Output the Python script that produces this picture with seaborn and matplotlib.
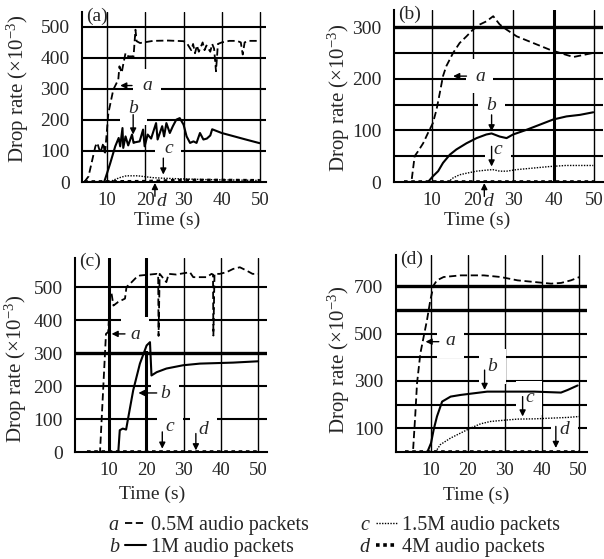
import numpy as np
import pandas as pd
import seaborn as sns
import matplotlib.pyplot as plt
from matplotlib.lines import Line2D

sns.set_style('white')
plt.rcParams['font.family'] = ['Liberation Serif', 'DejaVu Serif']
plt.rcParams['mathtext.fontset'] = 'custom'
plt.rcParams['mathtext.rm'] = 'Liberation Serif'
plt.rcParams['mathtext.it'] = 'Liberation Serif:italic'

# ---------------- dados ----------------
# painel (a)
a_a_t = [4, 5.1, 6.9, 7.4, 8.2, 9, 9.4, 10.3, 11.6, 12.9, 13.2, 13.8, 14.1, 14.8, 15.5, 16.9,
         17.4, 17.7, 18.6, 22, 26, 30, 31, 32, 32.5, 33, 33.5, 34, 35, 35.5, 36, 37, 37.5, 38,
         38.5, 39, 40, 42, 44, 45, 45.5, 46, 47, 50]
a_a_v = [0, 18, 115, 126, 94, 126, 88, 222, 298, 330, 373, 352, 373, 416, 405, 405,
         491, 454, 448, 455, 456, 454, 445, 425, 445, 415, 440, 420, 450, 425, 440, 420, 445, 430,
         357, 445, 450, 455, 455, 450, 411, 450, 455, 455]
a_b_t = [4, 9.2, 10, 10.8, 12.1, 13, 13.4, 14, 14.2, 14.8, 15.5, 16.5, 16.9, 17.3, 18.5, 19.4,
         19.8, 20.6, 21.5, 22.8, 23.2, 24.4, 24.9, 25.5, 26.4, 27.2, 28.1, 29, 30, 30.8, 31.7,
         32.6, 33.4, 34.3, 35.2, 36.1, 37, 37.5, 40, 43, 46, 50]
a_b_v = [0, 0, 30, 61, 115, 142, 115, 174, 110, 147, 118, 153, 126, 128, 131, 169,
         115, 153, 140, 190, 137, 180, 147, 190, 158, 180, 201, 206, 185, 147, 126,
         131, 126, 158, 137, 140, 150, 170, 158, 148, 138, 125]
a_c_t = [4, 10.5, 12, 13.5, 15, 18, 20, 22, 25, 30, 35, 40, 45, 50]
a_c_v = [0, 0, 8, 15, 20, 20, 17, 14, 12, 10, 8, 7, 6, 5]
a_d_t = [4, 20, 25, 30, 40, 50]
a_d_v = [0, 1, 3, 5, 5, 4]

# painel (b)
b_a_t = [3, 4.9, 5.7, 6.5, 7.8, 9, 10.2, 11.1, 11.9, 12.7, 13.5, 15.2, 16.8, 18.5, 20.1, 21.8,
         23.4, 25.1, 26.7, 28.4, 30.9, 35, 39.1, 43.2, 44.9, 47.4, 49.8]
b_a_v = [0, 0, 50, 59, 75, 95, 114, 140, 172, 205, 224, 250, 269, 282, 295, 305,
         311, 321, 305, 295, 282, 269, 256, 246, 242, 246, 250]
b_b_t = [3, 9, 10.2, 11.5, 12.7, 14.4, 16, 18.5, 21, 23.4, 24.7, 26.7, 28.4, 30, 33.3, 36.6,
         39.9, 43.2, 46.5, 49.8]
b_b_v = [0, 0, 11, 21, 37, 53, 63, 75, 85, 92, 94, 88, 85, 92, 101, 111,
         121, 127, 130, 135]
b_c_t = [3, 14, 15.2, 16.8, 18.5, 21, 23.4, 25, 26.7, 28.4, 30.9, 35, 39.1, 43, 49.8]
b_c_v = [0, 0, 8, 14, 17, 21, 23, 24, 21, 21, 24, 27, 30, 32, 32]
b_d_t = [3, 50]
b_d_v = [0, 0]

# painel (c)
c_a_t = [4, 7.6, 9.2, 9.8, 10.3, 10.7, 11.2, 12.5, 14.3, 14.7, 16.1, 17.4, 18.3, 22.8, 23.2,
         23.3, 23.6, 25.4, 26, 28, 31.7, 32.6, 36.2, 37.5, 37.9, 38, 38.3, 39.7, 41.5, 43.3,
         45.1, 46.9, 48.5, 50]
c_a_v = [0, 0, 358, 364, 470, 480, 444, 455, 465, 500, 515, 530, 535, 540, 538,
         352, 540, 515, 540, 538, 545, 530, 530, 540, 538, 353, 540, 540, 545, 555,
         560, 550, 540, 540]
c_b_t = [4, 12.5, 12.9, 13.7, 14.6, 15.2, 16.5, 18.3, 20.1, 21, 21.4, 22.8, 25.4, 29.9, 34.4,
         43.3, 50]
c_b_v = [0, 0, 66, 71, 68, 106, 187, 268, 323, 333, 232, 242, 253, 263, 268,
         271, 275]
c_c_t = [4, 50]
c_c_v = [0, 0]
c_d_t = [4, 50]
c_d_v = [0, 0]

# painel (d)
d_a_t = [3, 5.1, 5.7, 6.2, 7.1, 8, 8.9, 9.8, 10.7, 11.6, 13.4, 18, 24.3, 28.9, 33.4, 38,
         42.5, 45.2, 47.9, 50.2]
d_a_v = [0, 0, 150, 290, 416, 487, 557, 641, 704, 725, 739, 746, 746, 739, 725, 718,
         711, 714, 725, 739]
d_b_t = [3, 9, 10, 10.7, 11.6, 13, 15.3, 18, 21.6, 25.2, 28.9, 38, 45.2, 47, 49.7]
d_b_v = [0, 0, 38, 94, 150, 213, 234, 241, 248, 255, 255, 255, 251, 262, 281]
d_c_t = [11.2, 12.5, 15.3, 18, 20.7, 23.4, 26.1, 28.9, 33.4, 38, 42.5, 47, 50.2]
d_c_v = [0, 31, 59, 80, 101, 119, 129, 133, 139, 140, 143, 146, 150]
d_d_t = [3, 50]
d_d_v = [0, 0]

series_labels = ['a', 'b', 'c', 'd']
legend_texts = ['0.5M audio packets', '1M audio packets', '1.5M audio packets', '4M audio packets']
x_ticks = [10, 20, 30, 40, 50]

# estilos de cada curva
estilos = {
    'a': dict(linestyle=(0, (4, 2)), lw=1.3),
    'b': dict(linestyle='-', lw=1.5),
    'c': dict(linestyle=(0, (1, 1)), lw=1.0),
    'd': dict(linestyle=(0, (1, 1)), lw=2.6),
}

# notas: (letra, posicao do texto, cauda da seta, ponta da seta, fundo branco)
paineis = [
    dict(nome='(a)', rect=[0.1358, 0.6744, 0.3046, 0.3041], xlim=(3.4, 51.6), ylim=(0, 548),
         yticks=[0, 100, 200, 300, 400, 500], hgrid=[100, 200, 300, 400, 500], hthick=[],
         vthick=[], dados={'a': (a_a_t, a_a_v), 'b': (a_b_t, a_b_v), 'c': (a_c_t, a_c_v), 'd': (a_d_t, a_d_v)},
         notas=[('a', (20.4, 310), (16.5, 311), (13.4, 311), True),
                ('b', (16.8, 238), (16.8, 217), (16.8, 153), True),
                ('c', (26.0, 108), (24.7, 77), (24.7, 24), True),
                ('d', (24.2, -64), (22.5, -46), (22.5, -3), False)],
         ylab=(-0.35, 0.55), xlab=(0.46, -0.225)),
    dict(nome='(b)', rect=[0.6523, 0.6744, 0.346, 0.3077], xlim=(0.6, 52.2), ylim=(0, 333),
         yticks=[0, 100, 200, 300], hgrid=[50, 100, 150, 200, 250, 300], hthick=[300],
         vthick=[40], dados={'a': (b_a_t, b_a_v), 'b': (b_b_t, b_b_v), 'c': (b_c_t, b_c_v), 'd': (b_d_t, b_d_v)},
         notas=[('a', (21.8, 205), (18.5, 205), (15.2, 205), True),
                ('b', (24.7, 148), (24.7, 130), (24.7, 98), True),
                ('c', (26.3, 63), (24.7, 69), (24.7, 30), True),
                ('d', (23.8, -38), (22.9, -28), (22.9, -2), False)],
         ylab=(-0.265, 0.49), xlab=(0.40, -0.225)),
    dict(nome='(c)', rect=[0.1242, 0.1914, 0.318, 0.347], xlim=(0.9, 52.4), ylim=(0, 588),
         yticks=[0, 100, 200, 300, 400, 500], hgrid=[100, 200, 300, 400, 500], hthick=[300],
         vthick=[10, 20], dados={'a': (c_a_t, c_a_v), 'b': (c_b_t, c_b_v), 'c': (c_c_t, c_c_v), 'd': (c_d_t, c_d_v)},
         notas=[('a', (17.0, 357), (14.3, 358), (10.7, 358), True),
                ('b', (25.0, 177), (22.8, 179), (17.9, 179), True),
                ('c', (26.3, 78), (24.3, 61), (24.3, 10), True),
                ('d', (35.3, 68), (33.3, 56), (33.3, 5), True)],
         ylab=(-0.31, 0.43), xlab=(0.40, -0.22)),
    dict(nome='(d)', rect=[0.6556, 0.1914, 0.316, 0.352], xlim=(0.5, 52.2), ylim=(0, 831),
         yticks=[100, 300, 500, 700], hgrid=[100, 200, 300, 400, 500, 600, 700], hthick=[600, 700],
         vthick=[], dados={'a': (d_a_t, d_a_v), 'b': (d_b_t, d_b_v), 'c': (d_c_t, d_c_v), 'd': (d_d_t, d_d_v)},
         notas=[('a', (15.3, 470), (12.1, 466), (8.5, 466), True),
                ('b', (26.6, 362), (24.5, 346), (24.5, 262), True),
                ('c', (36.6, 229), (34.8, 234), (34.8, 150), True),
                ('d', (46.1, 94), (43.8, 108), (43.8, 17), True)],
         ylab=(-0.30, 0.47), xlab=(0.42, -0.22)),
]

fig = plt.figure(figsize=(6.04, 5.59), dpi=100)

for p in paineis:
    ax = fig.add_axes(p['rect'])
    # grade
    for h in p['hgrid']:
        ax.axhline(h, color='k', lw=2.4 if h in p['hthick'] else 1.5, zorder=1)
    for v in x_ticks:
        ax.axvline(v, color='k', lw=2.2 if v in p['vthick'] else 1.0, zorder=1)

    for s in series_labels:
        t, v = p['dados'][s]
        df = pd.DataFrame({'t': t, 'v': v})
        sns.lineplot(data=df, x='t', y='v', ax=ax, color='k', estimator=None, sort=False,
                     zorder=3, **estilos[s])

    for letra, pos, cauda, ponta, fundo in p['notas']:
        ax.annotate('', xy=ponta, xytext=cauda, zorder=4, annotation_clip=False,
                    arrowprops=dict(arrowstyle='-|>', color='k', lw=1.0, mutation_scale=9,
                                    shrinkA=0, shrinkB=0))
        caixa = dict(boxstyle='square,pad=0.45', fc='white', ec='none') if fundo else None
        ax.text(pos[0], pos[1], letra, fontsize=14, fontstyle='italic', ha='center',
                va='center', zorder=2, bbox=caixa, clip_on=False)

    ax.set_xlim(*p['xlim'])
    ax.set_ylim(*p['ylim'])
    ax.set_xticks(x_ticks)
    ax.set_yticks(p['yticks'])
    ax.tick_params(axis='x', labelsize=13.5, length=3, width=1, direction='out', pad=4)
    ax.tick_params(axis='y', labelsize=14, length=0, pad=9)
    for side in ['top', 'right']:
        ax.spines[side].set_visible(False)
    for side in ['left', 'bottom']:
        ax.spines[side].set_color('k')
        ax.spines[side].set_linewidth(1.5)
        ax.spines[side].set_zorder(3.5)
    ax.set_xlabel('Time (s)', fontsize=14)
    ax.set_ylabel(r'Drop rate ($\times$10$^{-3}$)', fontsize=15)
    ax.xaxis.label.set_va('center')
    ax.yaxis.label.set_va('center')
    ax.xaxis.set_label_coords(*p['xlab'])
    ax.yaxis.set_label_coords(*p['ylab'])
    ax.text(0.02, 1.025, p['nome'], transform=ax.transAxes, fontsize=14, ha='left', va='top')

# legenda
handles = [Line2D([], [], color='k', **estilos[s]) for s in series_labels]
# ordem para ncol=2: coluna 1 = a, b ; coluna 2 = c, d
leg = fig.legend(handles, legend_texts, ncol=2, frameon=False, fontsize=14.5,
                 loc='upper left', bbox_to_anchor=(125 / 604, 1 - 516 / 559),
                 borderpad=0, borderaxespad=0, handlelength=1.05, handletextpad=0.25,
                 labelspacing=0.12, columnspacing=3.3)

fig.canvas.draw()
inv = fig.transFigure.inverted()
for s, h, txt in zip(series_labels, leg.legend_handles, leg.get_texts()):
    bb_t = txt.get_window_extent()
    bb_h = h.get_window_extent()
    x0, y0 = inv.transform((bb_h.x0 - 6, (bb_t.y0 + bb_t.y1) / 2))
    fig.text(x0, y0, s, fontsize=14.5, fontstyle='italic', ha='right', va='center')

fig.savefig('out.png', dpi=100)
